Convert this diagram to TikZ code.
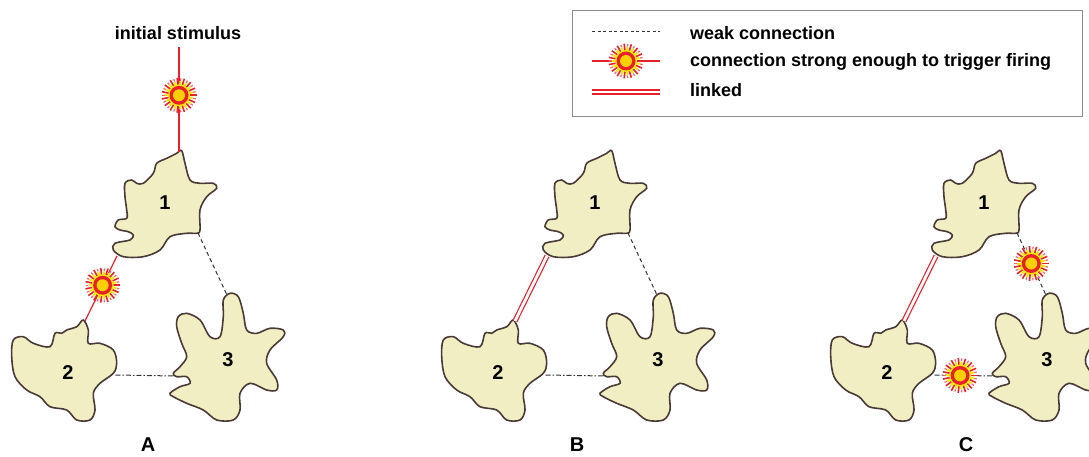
\documentclass[tikz,border=0pt]{standalone}
\usepackage{fontspec}
\setmainfont{Liberation Sans}
\usetikzlibrary{calc}
\definecolor{blobfill}{HTML}{F0EEC2}
\definecolor{blobline}{HTML}{4A3A36}
\definecolor{firered}{HTML}{E8202A}
\definecolor{fireyellow}{HTML}{FFE600}
\definecolor{firecore}{HTML}{FFD000}
\definecolor{weakgray}{HTML}{333333}
\definecolor{keygray}{HTML}{8C8C8C}

\tikzset{
    burst/.pic={
        \foreach \a in {0,24,...,336} {
            \draw[firered, line width=1.6pt] (\a:10pt) -- (\a:17.5pt);
            \draw[fireyellow, line width=2pt] (\a+12:9pt) -- (\a+12:14pt);
            \draw[firered!70, line width=1.2pt] (\a+12:14.5pt) -- (\a+12:17pt);
        }
        \fill[fireyellow] (0,0) circle (11pt);
        \fill[firered] (0,0) circle (9.5pt);
        \fill[firecore] (0,0) circle (6pt);
    }
}

% three neurons of one panel, with the points where connections attach
\newcommand{\cellpanel}[2]{%
\begin{scope}[xshift=#2]
    \draw[blob] plot[smooth cycle, tension=0.55] coordinates {
        (181.7,150.7) (185,163.3) (190,180) (200,183.3) (213.3,183.3) (216.7,188.3)
        (206.7,196.7) (200,210) (200,230) (196.7,233.3) (186.7,233.3) (170,236.7)
        (160,250) (143.3,256.7) (123.3,256.7) (113.3,250) (115,243.3) (130,240)
        (133.3,235) (128.3,231.7) (120,230) (115,226.7) (118.3,220) (126.7,218.3)
        (126.7,210) (125,196.7) (125,183.3) (131.7,180) (136.7,183.3) (143.3,183.3)
        (153.3,173.3) (156.7,163.3) (166.7,158.3) (176.7,153.3)};
    \draw[blob] plot[smooth cycle, tension=0.55] coordinates {
        (83.3,320) (88.3,330) (88.3,343.3) (100,343.3) (113.3,350) (116.7,363.3)
        (113.3,373.3) (100,383.3) (93.3,393.3) (95,410) (90,420) (76.7,420)
        (66.7,410) (50,406.7) (40,396.7) (26.7,390) (15,376.7) (11.7,356.7)
        (13.3,340) (23.3,336.7) (33.3,343.3) (50,346.7) (55,333.3) (61.7,333.3)
        (66.7,330) (76.7,326.7)};
    \draw[blob] plot[smooth cycle, tension=0.55] coordinates {
        (230,293.3) (238.3,296.7) (243.3,313.3) (246.7,330) (256.7,333.3) (270,328.3)
        (283.3,330) (283.3,336.7) (270,350) (266.7,363.3) (276.7,380) (276.7,390)
        (266.7,390) (250,383.3) (240,393.3) (240,410) (233.3,420) (216.7,420)
        (203.3,410) (186.7,403.3) (173.3,396.7) (170,393.3) (180,386.7) (190,383.3)
        (186.7,376.7) (176.7,376.7) (173.3,373.3) (180,366.7) (186.7,356.7) (181.7,343.3)
        (176.7,326.7) (178.3,316.7) (186.7,313.3) (200,320) (210,336.7) (220,336.7)
        (223.3,316.7) (223.3,300)};
    \node[num] (#1n1) at (165,210) {1};
    \node[num] (#1n2) at (68,379) {2};
    \node[num] (#1n3) at (228,366) {3};
    % attachment points
    \coordinate (#1top) at (179,152);
    \coordinate (#1sw)  at (117,256);
    \coordinate (#1se)  at (198,233);
    \coordinate (#1tw)  at (85,321);
    \coordinate (#1te)  at (115.5,375);
    \coordinate (#1hn)  at (226.5,294);
    \coordinate (#1hw)  at (175,376);
\end{scope}}

\begin{document}
\begin{tikzpicture}[
    x=1pt, y=-1pt,
    blob/.style={draw=blobline, fill=blobfill, line width=1.6pt},
    num/.style={font=\fontsize{20}{22}\selectfont\bfseries, inner sep=0pt, anchor=base},
    lbl/.style={font=\fontsize{18}{20}\selectfont\bfseries, inner sep=0pt, anchor=base},
    keytext/.style={font=\fontsize{18}{20}\selectfont\bfseries, inner sep=0pt, anchor=base west},
    weak/.style={draw=weakgray, line width=1pt, dash pattern=on 4pt off 3pt},
    weakdot/.style={draw=weakgray, line width=1pt, dash pattern=on 5pt off 2pt on 1.5pt off 2pt},
    fire/.style={draw=firered, line width=1.2pt},
    linked/.style={draw=firered, line width=1.2pt, double=white, double distance=2.8pt},
]
\useasboundingbox (0,0) rectangle (1089,457);
\clip (0,0) rectangle (1089,457);

% ===== Panel A: stimulus fires 1, which fires 2 =====
\cellpanel{A}{0pt}
\coordinate (Astim) at (179,47);
\node[lbl] (stimtext) at (178,40) {initial stimulus};
\draw[fire] (Atop) -- (Astim);
\pic at ($(Atop)!0.54!(Astim)$) {burst};
\draw[fire] (Asw) -- (Atw);
\pic at ($(Asw)!0.45!(Atw)$) {burst};
\draw[weak] (Ase) -- (Ahn);
\draw[weakdot] (Ate) -- (Ahw);
\node[num] (labA) at (148,451) {A};

% ===== Panel B: 1 and 2 linked =====
\cellpanel{B}{430pt}
\draw[linked] (Bsw) -- (Btw);
\draw[weak] (Bse) -- (Bhn);
\draw[weakdot] (Bte) -- (Bhw);
\node[num] (labB) at (577,451) {B};

% ===== Panel C: the linked pair fires 3 =====
\cellpanel{C}{819pt}
\draw[linked] (Csw) -- (Ctw);
\draw[weak] (Cse) -- (Chn);
\pic at ($(Cse)!0.5!(Chn)$) {burst};
\draw[weakdot] (Cte) -- (Chw);
\pic at ($(Cte)!0.43!(Chw)$) {burst};
\node[num] (labC) at (966,451) {C};

% ===== Key =====
\draw[keygray, line width=1pt] (572,11) rectangle (1082,117);
\coordinate (k1a) at (592,32);  \coordinate (k1b) at (660,32);
\coordinate (k2a) at (592,61);  \coordinate (k2b) at (660,61);
\coordinate (k3a) at (592,92);  \coordinate (k3b) at (660,92);
\draw[weak, dash pattern=on 3pt off 2.5pt] (k1a) -- (k1b);
\draw[fire] (k2a) -- (k2b);
\pic at ($(k2a)!0.5!(k2b)$) {burst};
\draw[linked] (k3a) -- (k3b);
\node[keytext] (k1t) at (690,39.5) {weak connection};
\node[keytext] (k2t) at (690,66.5) {connection strong enough to trigger firing};
\node[keytext] (k3t) at (690,96.5) {linked};

\end{tikzpicture}
\end{document}
